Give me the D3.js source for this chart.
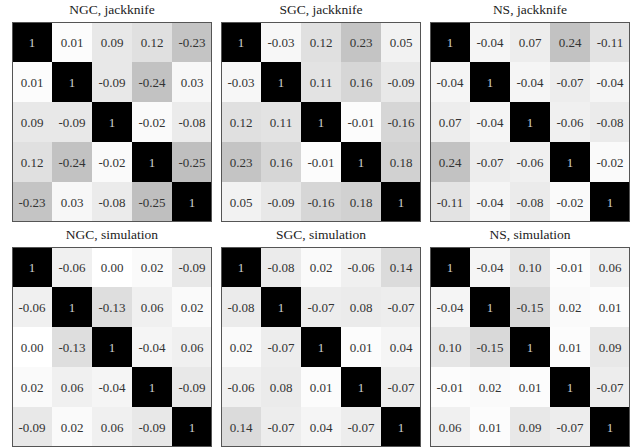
<!DOCTYPE html>
<html lang="en">
<head>
    <meta charset="UTF-8">
    <title>Correlation matrices</title>
    <script src="https://d3js.org/d3.v7.min.js"></script>
    <style>
        body { margin: 0; background: #fff; }
    </style>
</head>
<body>
<svg height="447" width="641" font-family="'Liberation Serif', 'DejaVu Serif', serif"></svg>

<script>
    const titles = ["NGC, jackknife", "SGC, jackknife", "NS, jackknife",
                    "NGC, simulation", "SGC, simulation", "NS, simulation"];

    const ngcJackknife = [
        [1, 0.01, 0.09, 0.12, -0.23],
        [0.01, 1, -0.09, -0.24, 0.03],
        [0.09, -0.09, 1, -0.02, -0.08],
        [0.12, -0.24, -0.02, 1, -0.25],
        [-0.23, 0.03, -0.08, -0.25, 1]
    ];
    const sgcJackknife = [
        [1, -0.03, 0.12, 0.23, 0.05],
        [-0.03, 1, 0.11, 0.16, -0.09],
        [0.12, 0.11, 1, -0.01, -0.16],
        [0.23, 0.16, -0.01, 1, 0.18],
        [0.05, -0.09, -0.16, 0.18, 1]
    ];
    const nsJackknife = [
        [1, -0.04, 0.07, 0.24, -0.11],
        [-0.04, 1, -0.04, -0.07, -0.04],
        [0.07, -0.04, 1, -0.06, -0.08],
        [0.24, -0.07, -0.06, 1, -0.02],
        [-0.11, -0.04, -0.08, -0.02, 1]
    ];
    const ngcSimulation = [
        [1, -0.06, 0.00, 0.02, -0.09],
        [-0.06, 1, -0.13, 0.06, 0.02],
        [0.00, -0.13, 1, -0.04, 0.06],
        [0.02, 0.06, -0.04, 1, -0.09],
        [-0.09, 0.02, 0.06, -0.09, 1]
    ];
    const sgcSimulation = [
        [1, -0.08, 0.02, -0.06, 0.14],
        [-0.08, 1, -0.07, 0.08, -0.07],
        [0.02, -0.07, 1, 0.01, 0.04],
        [-0.06, 0.08, 0.01, 1, -0.07],
        [0.14, -0.07, 0.04, -0.07, 1]
    ];
    const nsSimulation = [
        [1, -0.04, 0.10, -0.01, 0.06],
        [-0.04, 1, -0.15, 0.02, 0.01],
        [0.10, -0.15, 1, 0.01, 0.09],
        [-0.01, 0.02, 0.01, 1, -0.07],
        [0.06, 0.01, 0.09, -0.07, 1]
    ];

    const matrices = [ngcJackknife, sgcJackknife, nsJackknife,
                      ngcSimulation, sgcSimulation, nsSimulation];

    const svg = d3.select("svg");

    const size = 200;
    const colX = d3.scaleOrdinal().domain([0, 1, 2]).range([12, 221, 430]);
    const rowY = d3.scaleOrdinal().domain([0, 1]).range([22, 247]);

    const idx = d3.range(5);
    const x = d3.scaleBand().domain(idx).range([0, size]);
    const y = d3.scaleBand().domain(idx).range([0, size]);

    // grey by |r|, 0 -> white, 1 -> black
    const color = d3.scaleLinear().domain([0, 1]).range(["#ffffff", "#000000"]);
    const loc = d3.formatLocale({decimal: ".", thousands: ",", grouping: [3], currency: ["", ""], minus: "-"});
    const fmt = v => v === 1 ? "1" : loc.format(".2f")(v);

    matrices.forEach(function(m, k) {
        const g = svg.append("g")
            .attr("transform", `translate(${colX(k % 3)},${rowY(Math.floor(k / 3))})`);

        const cells = m.flatMap((row, i) => row.map((v, j) => ({i, j, v})));

        g.selectAll("rect.cell")
            .data(cells)
            .enter()
            .append("rect")
            .attr("class", "cell")
            .attr("x", d => x(d.j))
            .attr("y", d => y(d.i))
            .attr("width", x.bandwidth())
            .attr("height", y.bandwidth())
            .attr("fill", d => color(Math.abs(d.v)));

        g.selectAll("text.val")
            .data(cells)
            .enter()
            .append("text")
            .attr("class", "val")
            .attr("x", d => x(d.j) + x.bandwidth() / 2)
            .attr("y", d => y(d.i) + y.bandwidth() / 2)
            .attr("dy", "0.35em")
            .attr("text-anchor", "middle")
            .attr("font-size", 13)
            .attr("fill", d => Math.abs(d.v) > 0.5 ? "#d0d0d0" : "#333")
            .text(d => fmt(d.v));

        g.append("rect")
            .attr("x", 0.5)
            .attr("y", 0.5)
            .attr("width", size - 1)
            .attr("height", size - 1)
            .attr("fill", "none")
            .attr("stroke", "#555")
            .attr("stroke-width", 1);

        g.append("text")
            .attr("x", size / 2)
            .attr("y", -8)
            .attr("text-anchor", "middle")
            .attr("font-size", 13.5)
            .attr("fill", "#222")
            .text(titles[k]);
    });
</script>

</body>
</html>
